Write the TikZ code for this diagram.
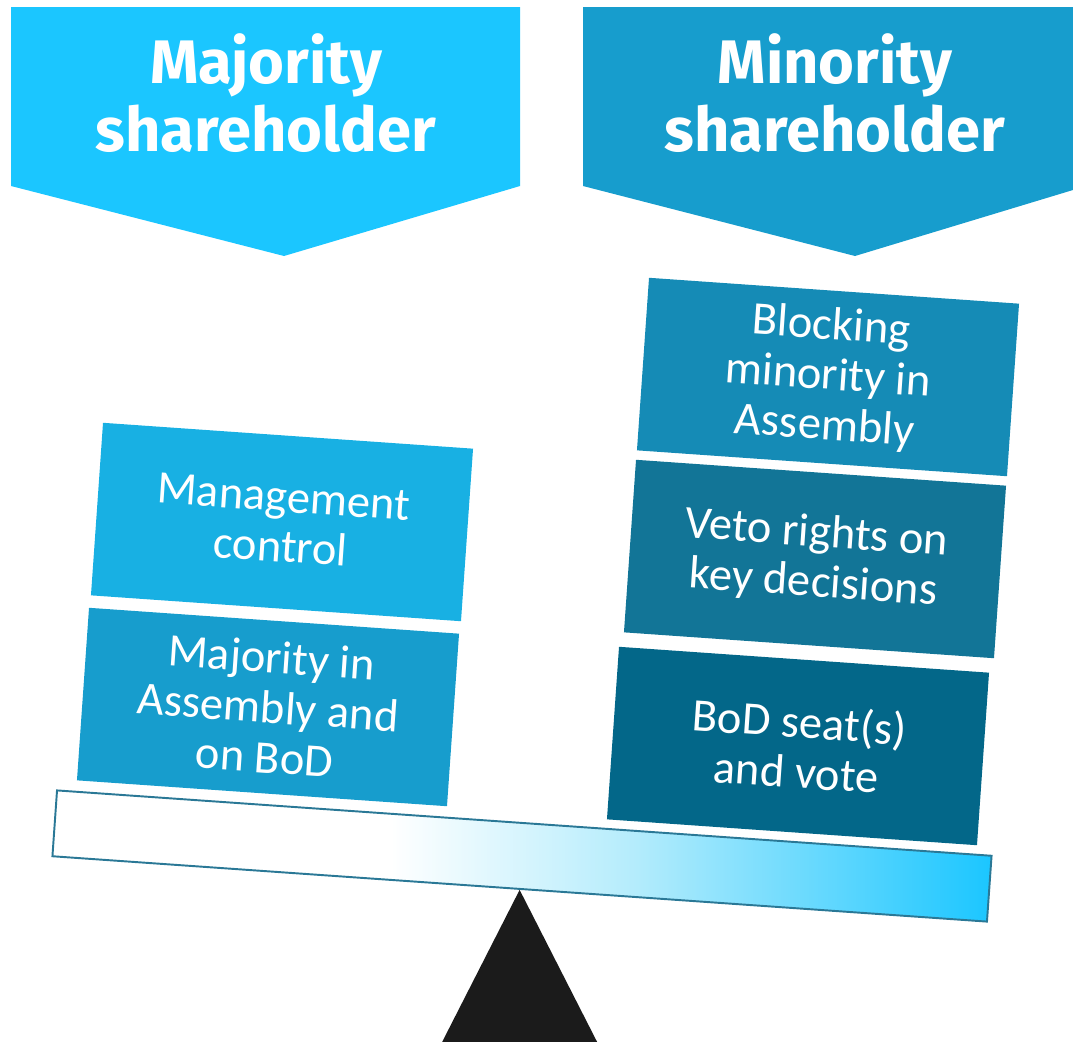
\documentclass[tikz,border=0pt]{standalone}
\usepackage{fontspec}
\setmainfont{Carlito}
\newfontfamily\headfont{Fira Sans}
\definecolor{majhead}{HTML}{1BC6FF}
\definecolor{minhead}{HTML}{179DCD}
\definecolor{mgmtcol}{HTML}{18B0E3}
\definecolor{majincol}{HTML}{179DCD}
\definecolor{blockcol}{HTML}{158BB6}
\definecolor{vetocol}{HTML}{127597}
\definecolor{seatcol}{HTML}{036789}
\definecolor{beamedge}{HTML}{2A7896}
\definecolor{beamlight}{HTML}{B4ECFC}
\definecolor{fulcrumcol}{HTML}{1B1B1B}
\pgfdeclarehorizontalshading{beamshade}{100bp}{color(0bp)=(white); color(43bp)=(white); color(56bp)=(beamlight); color(75bp)=(majhead); color(100bp)=(majhead)}
\begin{document}
\begin{tikzpicture}[x=0.02cm, y=-0.02cm,
    rightsbox/.style={minimum width=7.42cm, minimum height=3.46cm, inner sep=0pt, rotate=-4, text=white, align=center, font=\fontsize{26.5}{28.5}\selectfont},
    headtext/.style={text=white, align=center, font=\headfont\bfseries\fontsize{35}{39}\selectfont},
    beam/.style={minimum width=18.74cm, minimum height=1.32cm, inner sep=0pt, rotate=-4, draw=beamedge, line width=1.1pt, shading=beamshade}]
  \clip (0,0) rectangle (1073,1042);
  % headers
  \fill[majhead] (11,7) -- (520,7) -- (520,186) -- (284,256) -- (11,186) -- cycle;
  \fill[minhead] (583,7) -- (1073,7) -- (1073,190) -- (855,256) -- (583,186) -- cycle;
  \node[headtext] (hmaj) at (266,93) {Majority\\shareholder};
  \node[headtext] (hmin) at (835,93) {Minority\\shareholder};
  % left pan
  \node[rightsbox, fill=mgmtcol] (mgmt) at (282,522) {Management\\control};
  \node[rightsbox, fill=majincol] (majin) at (268,707) {Majority in\\Assembly and\\on BoD};
  % right pan
  \node[rightsbox, fill=blockcol] (block) at (828,377) {Blocking\\minority in\\Assembly};
  \node[rightsbox, fill=vetocol] (veto) at (815,559) {Veto rights on\\key decisions};
  \node[rightsbox, fill=seatcol] (seat) at (798,746) {BoD seat(s)\\and vote};
  % beam and fulcrum
  \node[beam] (beam) at (522,856) {};
  \fill[fulcrumcol] (beam.south) -- ++(-80,157) -- ++(160,0) -- cycle;
\end{tikzpicture}
\end{document}
